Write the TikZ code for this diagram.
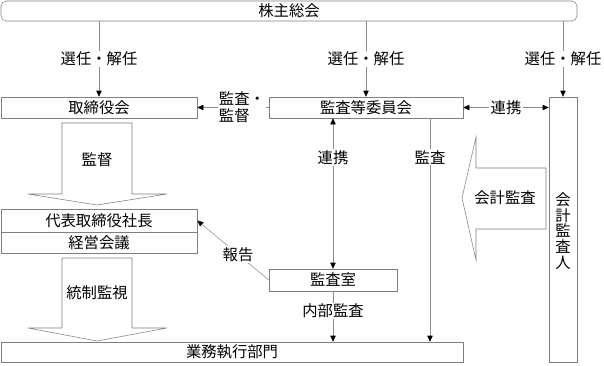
\documentclass[tikz,border=0pt]{standalone}
\usepackage{fontspec}
\setmainfont{Noto Sans CJK JP}
\usepackage{tikz}
\usetikzlibrary{arrows.meta,positioning,calc}
\definecolor{boxgray}{HTML}{7F7F7F}
\definecolor{linegray}{HTML}{8C8C8C}

\begin{document}
\begin{tikzpicture}[
  x=0.75pt, y=-0.75pt,
  font=\fontsize{11.5}{13}\selectfont,
  box/.style={draw=boxgray, inner sep=0pt, minimum height=15.75pt, align=center},
  lbl/.style={fill=white, inner sep=1pt, align=center},
  arrow/.style={draw=linegray, -{Triangle[length=4.5pt,width=4pt,color=black]}},
  darrow/.style={draw=linegray, {Triangle[length=4.5pt,width=4pt,color=black]}-{Triangle[length=4.5pt,width=4pt,color=black]}},
  bigarrow/.style={draw=boxgray, fill=white},
]
  \useasboundingbox (0,0) rectangle (604,365);

  % Boxes
  \node[box, rounded corners=4pt, minimum width=432pt, minimum height=15pt] (soukai) at (289, 11) {株主総会};
  \node[box, minimum width=147pt] (torishimari) at (99, 107.5) {取締役会};
  \node[box, minimum width=145.5pt] (kansatou) at (366, 107.5) {監査等委員会};
  \node[box, minimum width=21pt, minimum height=198.75pt] (kaikei) at (563, 229.5) {};
  \node[align=center, font=\fontsize{11.5}{11.7}\selectfont] (kaikeitext) at (563, 231) {会\\計\\監\\査\\人};
  \node[box, minimum width=147pt, minimum height=17.25pt] (daihyou) at (99, 220.5) {代表取締役社長};
  \node[box, minimum width=147pt] (keiei) at (99, 242.5) {経営会議};
  \node[box, minimum width=96pt, minimum height=16.5pt] (kansashitsu) at (333, 280) {監査室};
  \node[box, minimum width=346.5pt, minimum height=15pt] (gyoumu) at (232, 352) {業務執行部門};

  % Big arrows
  \draw[bigarrow] (62,123) -- (62,194) -- (28,194) -- (97,205) -- (167,194) -- (132,194) -- (132,123) -- cycle;
  \node (kantoku) at (97, 160) {監督};
  \draw[bigarrow] (62,258) -- (62,328) -- (28,328) -- (97,341) -- (167,328) -- (132,328) -- (132,258) -- cycle;
  \node (tousei) at (97, 293) {統制監視};
  \draw[bigarrow] (546,168) -- (476,168) -- (476,137) -- (462,198) -- (476,260) -- (476,229) -- (546,229) -- cycle;
  \node (kaikeikansa) at (505, 198) {会計監査};

  % Arrows
  \draw[arrow] (torishimari.north |- soukai.south) -- node[lbl] {選任・解任} (torishimari.north);
  \draw[arrow] (kansatou.north |- soukai.south) -- node[lbl] {選任・解任} (kansatou.north);
  \draw[arrow] (kaikei.north |- soukai.south) -- node[lbl] {選任・解任} (kaikei.north);
  \draw[arrow] (kansatou.west) -- node[lbl, align=left, pos=0.375, font=\fontsize{11.5}{12.5}\selectfont] {監査・\\監督} (torishimari.east);
  \draw[darrow] (kansatou.east) -- node[lbl] {連携} (kaikei.west |- kansatou.east);
  \draw[darrow] (kansashitsu.north) -- node[lbl, pos=0.74] {連携} (kansashitsu.north |- kansatou.south);
  \draw[arrow] ([xshift=48pt]kansatou.south) -- node[lbl, pos=0.174] {監査} ([xshift=48pt]kansatou.south |- gyoumu.north);
  \draw[arrow] (kansashitsu.south) -- node[lbl, pos=0.39] {内部監査} (kansashitsu.south |- gyoumu.north);
  \draw[arrow] (kansashitsu.west) -- node[lbl, pos=0.43] {報告} (daihyou.east);
\end{tikzpicture}
\end{document}
